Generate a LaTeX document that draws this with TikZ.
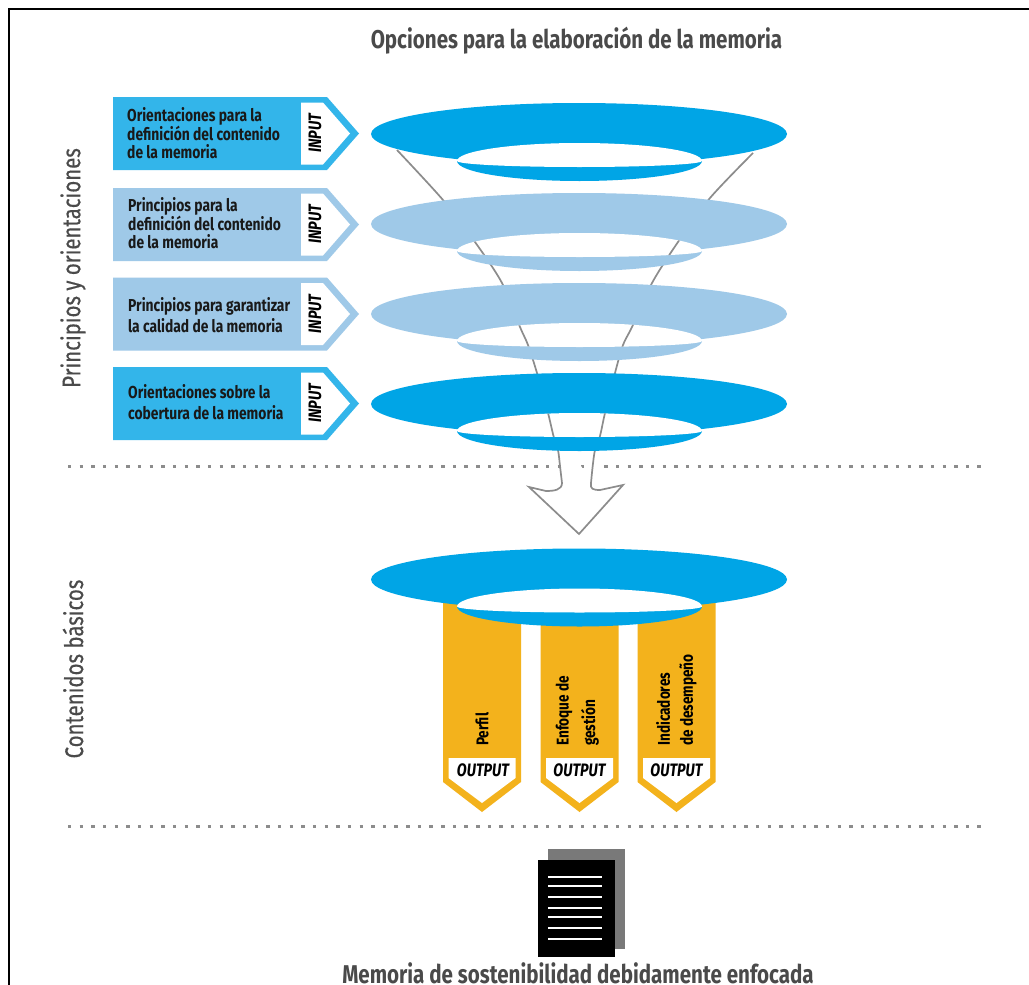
\documentclass[tikz,border=0pt]{standalone}
\usepackage{fontspec}
\setmainfont{Fira Sans}
\newfontfamily\narrowf[FakeStretch=0.8,BoldFont={Fira Sans Bold},ItalicFont={Fira Sans Italic},BoldItalicFont={Fira Sans Bold Italic}]{Fira Sans}
\newfontfamily\sidef[FakeStretch=0.8,FakeBold=0.5]{Fira Sans}
\usetikzlibrary{calc}
\definecolor{deepblue}{HTML}{00A5E6}
\definecolor{boxblue}{HTML}{33B5EA}
\definecolor{lightblue}{HTML}{9FC9E8}
\definecolor{gold}{HTML}{F3B21C}
\definecolor{titlegray}{HTML}{4A4A4A}
\definecolor{funnelgray}{HTML}{8C8C8C}
\tikzset{
  x=1pt,y=1pt,
  boxtext/.style={anchor=west,align=left,inner sep=0pt,text=black!90,font=\narrowf\bfseries\fontsize{17.3}{18}\selectfont},
  tagtext/.style={inner sep=0pt,text=black,font=\narrowf\bfseries\itshape\fontsize{18}{18}\selectfont},
  coltext/.style={inner sep=0pt,text=black,rotate=90,anchor=west,font=\narrowf\bfseries\fontsize{17}{17}\selectfont},
  title/.style={inner sep=0pt,text=titlegray,font=\narrowf\bfseries\fontsize{25.7}{26}\selectfont},
  sidetitle/.style={inner sep=0pt,text=titlegray,rotate=90,font=\sidef\fontsize{25.5}{26}\selectfont},
  dotline/.style={funnelgray,line width=3pt,dash pattern=on 3.4pt off 8.26pt},
  funnel/.style={funnelgray,line width=1.7pt,line join=miter},
}
\newcommand{\funnelpath}{
  plot[smooth,tension=0.5] coordinates {(397,-150)(443,-200)(475,-242)(502,-283)(520,-327)(528,-345)(537,-373)(548,-413)(553.5,-436)(558,-450)(560,-466)(562,-483)}
  .. controls (562,-490) and (554,-491) .. (546,-491) -- (529,-487) -- (579,-534) -- (623,-485) -- (600,-490)
  .. controls (593,-490) and (590,-489) .. (591,-483)
  plot[smooth,tension=0.5] coordinates {(591,-483)(592.7,-466)(595,-450)(600,-436)(605,-413)(615,-373)(623,-345)(632,-327)(652,-283)(678,-242)(710,-198)(753,-153)}
}
% #1 centre y, #2 colour
\newcommand{\holepath}{(457,-27) arc[start angle=180,end angle=0,x radius=122.5,y radius=18] arc[start angle=360,end angle=180,x radius=122.5,y radius=6] -- cycle}
\newcommand{\ring}[2]{
  \begin{scope}[shift={(0,-#1)}]
    \fill[#2] (579,0) ellipse [x radius=208,y radius=31];
    \fill[#2] (457,-27) arc[start angle=180,end angle=360,x radius=122.5,y radius=20] -- cycle;
    \fill[white] \holepath;
    \begin{scope}
      \clip \holepath;
      \begin{scope}[shift={(0,#1)}]
        \draw[funnel] \funnelpath;
      \end{scope}
    \end{scope}
  \end{scope}
}
% #1 centre y, #2 colour
\newcommand{\inputbox}[2]{
  \begin{scope}[shift={(0,-#1)}]
    \fill[#2] (113,36.5) -- (327,36.5) -- (359,0) -- (327,-36.5) -- (113,-36.5) -- cycle;
    \fill[white] (301,31) -- (323,31) -- (350,0) -- (323,-31) -- (301,-31) -- cycle;
  \end{scope}
}
% #1 left x
\newcommand{\outputbox}[1]{
  \begin{scope}[shift={(#1,0)}]
    \fill[gold] (0,-600) -- (78,-600) -- (78,-782) -- (39,-812) -- (0,-782) -- cycle;
    \fill[white] (5.5,-758) -- (72.5,-758) -- (72.5,-778) -- (39,-803) -- (5.5,-778) -- cycle;
  \end{scope}
}
\begin{document}
\begin{tikzpicture}
\useasboundingbox (0,0) rectangle (1029,-985);
\fill[white] (0,0) rectangle (1029,-985);
% frame
\draw[black,line width=2pt] (9,-985) -- (9,-9) -- (1029,-9);
% dotted separators
\draw[dotline] (68,-466) -- (981,-466);
\draw[dotline] (68,-826) -- (981,-826);
% funnel
\fill[white] \funnelpath;
\draw[funnel] \funnelpath;
% output tags
\outputbox{443}
\outputbox{540.5}
\outputbox{637.5}
% rings
\ring{134}{deepblue}
\ring{224}{lightblue}
\ring{314}{lightblue}
\ring{404}{deepblue}
\ring{579.5}{deepblue}
% input boxes
\inputbox{133.5}{boxblue}
\inputbox{224.5}{lightblue}
\inputbox{314}{lightblue}
\inputbox{403.5}{boxblue}
% document icon
\fill[gray!95!black] (548,-849) rectangle (625,-949);
\fill[black] (538,-860) rectangle (615,-957);
\foreach \ly in {877,886,897,908,917,928,939}{
  \draw[white,line width=1.3pt] (548,-\ly) -- (602,-\ly);
}
% texts
\node[title] (ttop) at (576.5,-41) {Opciones para la elaboración de la memoria};
\node[title,anchor=base] (tbottom) at (578,-983) {Memoria de sostenibilidad debidamente enfocada};
\node[sidetitle] (sideA) at (73,-268) {Principios y orientaciones};
\node[sidetitle] (sideB) at (73,-669) {Contenidos básicos};
\node[boxtext] (b1) at (127,-133) {Orientaciones para la\\definición del contenido\\de la memoria};
\node[boxtext] (b2) at (128,-223) {Principios para la\\definición del contenido\\de la memoria};
\node[boxtext] (b3) at (128,-315) {Principios para garantizar\\[3pt]la calidad de la memoria};
\node[boxtext] (b4) at (128,-402) {Orientaciones sobre la\\[3pt]cobertura de la memoria};
\foreach \n/\cy in {i1/133.5,i2/224.5,i3/314,i4/403.5}{
  \node[tagtext,rotate=90] (\n) at (315,-\cy) {INPUT};
}
\foreach \n/\cx in {o1/483,o2/579.5,o3/676.5}{
  \node[tagtext] (\n) at (\cx,-770) {OUTPUT};
}
\node[coltext] (c1) at (482,-746) {Perfil};
\node[coltext] (c2a) at (564,-746) {Enfoque de};
\node[coltext] (c2b) at (590,-746) {gestión};
\node[coltext] (c3a) at (663,-746) {Indicadores};
\node[coltext] (c3b) at (688,-746) {de desempeño};
\end{tikzpicture}
\end{document}
